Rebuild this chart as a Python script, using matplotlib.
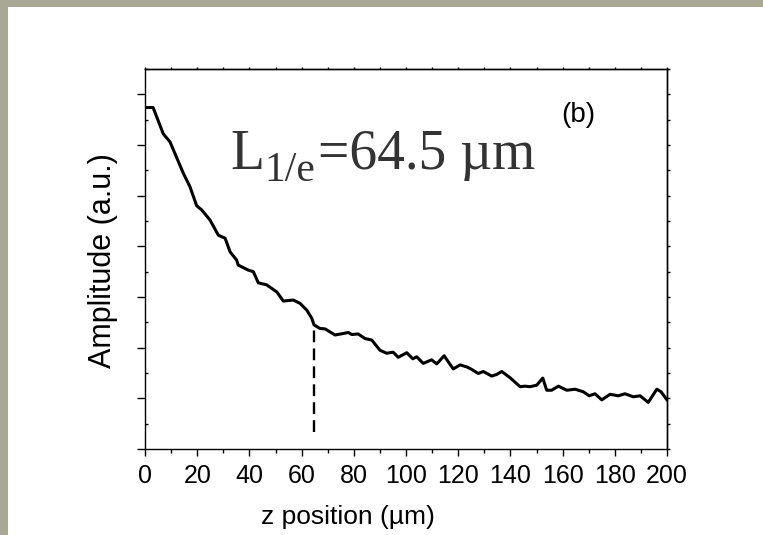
import matplotlib.pyplot as plt
from matplotlib.ticker import MultipleLocator
from matplotlib.patches import Rectangle
from matplotlib.transforms import offset_copy

# amplitude profile
z_um = [0, 3.1, 7.0, 9.6, 14.7, 17.2, 19.8, 21.7, 24.9, 28.1, 30.7, 32.6, 35.1, 35.7,
        39.6, 41.5, 43.4, 46.6, 50.5, 53.0, 56.8, 59.4, 62.0, 63.9, 64.75, 67.0, 69.0,
        72.8, 76.0, 77.9, 79.2, 81.7, 84.3, 86.9, 90.0, 92.6, 95.1, 97.0, 100.3, 102.6,
        104.1, 106.6, 109.8, 111.8, 114.6, 118.1, 120.7, 123.3, 125.2, 127.7, 129.6,
        132.8, 134.7, 136.7, 139.8, 143.7, 145.6, 147.5, 150.1, 152.4, 153.9, 155.8,
        158.4, 161.6, 164.8, 167.9, 170.2, 172.4, 175.0, 178.2, 181.3, 183.9, 187.1,
        189.7, 192.8, 196.1, 197.7, 200]
amp = [6.74, 6.74, 6.22, 6.06, 5.44, 5.18, 4.80, 4.72, 4.52, 4.22, 4.16, 3.89, 3.73, 3.63,
       3.53, 3.50, 3.28, 3.24, 3.10, 2.92, 2.94, 2.875, 2.74, 2.58, 2.45, 2.38, 2.37,
       2.25, 2.28, 2.30, 2.26, 2.27, 2.18, 2.15, 1.95, 1.89, 1.91, 1.81, 1.90, 1.78,
       1.82, 1.69, 1.76, 1.68, 1.84, 1.58, 1.66, 1.62, 1.57, 1.49, 1.53,
       1.44, 1.47, 1.53, 1.41, 1.23, 1.24, 1.23, 1.26, 1.40, 1.16, 1.16,
       1.24, 1.16, 1.18, 1.13, 1.05, 1.09, 0.97, 1.08, 1.05, 1.09, 1.03,
       1.05, 0.92, 1.18, 1.13, 0.97]

L_1e = 64.75          # decay length marker
marker_y = [0.34, 2.45]
x_ticks = [0, 20, 40, 60, 80, 100, 120, 140, 160, 180, 200]

fig = plt.figure(figsize=(7.63, 5.35), dpi=100)
fig.patch.set_facecolor('#a9a894')
fig.patches.append(Rectangle((8/763, 0), 1, (535-7)/535, transform=fig.transFigure,
                             facecolor='white', edgecolor='none', zorder=-10))

ax = fig.add_axes([145/763, 86/535, 522/763, 380/535])
ax.patch.set_alpha(0)
ax.plot(z_um, amp, color='black', lw=2.2)
ax.plot([L_1e, L_1e], marker_y, color='black', lw=1.7, dashes=(5, 2.6))

ax.set_xlim(0, 200)
ax.set_ylim(0, 7.5)
ax.set_xticks(x_ticks)
ax.xaxis.set_minor_locator(MultipleLocator(10))
ax.yaxis.set_major_locator(MultipleLocator(1))
ax.yaxis.set_minor_locator(MultipleLocator(0.5))
for s in ax.spines.values():
    s.set_linewidth(1.0)

ax.tick_params(axis='x', which='major', direction='out', length=5, width=1.0, pad=6,
               labelsize=18, top=False)
ax.tick_params(axis='x', which='minor', direction='out', length=3, width=1.0, top=False)
ax.tick_params(axis='y', which='major', direction='out', length=6, width=1.0,
               labelleft=False, right=False)
ax.tick_params(axis='y', which='minor', direction='in', length=2.5, width=1.0, right=False)
for lbl in ax.get_xticklabels():
    lbl.set_fontfamily('Liberation Sans')

# top and right get their own tiny ticks
top = ax.secondary_xaxis('top')
top.xaxis.set_major_locator(MultipleLocator(10))
top.tick_params(direction='out', length=1.8, width=1.0, labeltop=False)
top.spines['top'].set_linewidth(1.0)
right = ax.secondary_yaxis('right')
right.yaxis.set_major_locator(MultipleLocator(0.5))
right.tick_params(direction='out', length=1.8, width=1.0, labelright=False)
right.spines['right'].set_linewidth(1.0)

ax.set_xlabel('z position (µm)', fontsize=19, fontfamily='Liberation Sans')
ax.xaxis.set_label_coords(0.389, -0.197)
ax.xaxis.label.set_va('baseline')
ax.set_ylabel('Amplitude (a.u.)', fontsize=22, fontfamily='Liberation Sans')
ax.yaxis.set_label_coords(-0.066, 0.495)
ax.yaxis.label.set_va('baseline')

# L_1/e label built from three pieces so the subscript can be bigger than mathtext's
rend = fig.canvas.get_renderer()
serif = dict(fontfamily='Liberation Serif', color='#333333', ha='left', va='baseline')
t1 = ax.text(0.163, 0.737, 'L', transform=ax.transAxes, fontsize=40, **serif)
w1 = t1.get_window_extent(rend).width
tr2 = offset_copy(ax.transAxes, fig, x=w1, y=-12, units='dots')
t2 = ax.text(0.163, 0.737, '1/e', transform=tr2, fontsize=30, **serif)
w2 = t2.get_window_extent(rend).width
tr3 = offset_copy(ax.transAxes, fig, x=w1 + w2 + 3, y=0, units='dots')
ax.text(0.163, 0.737, '=64.5 µm', transform=tr3, fontsize=40, **serif)

ax.text(0.831, 0.878, '(b)', transform=ax.transAxes, fontsize=20,
        fontfamily='Liberation Sans', ha='center', va='center')

fig.savefig('out.png', dpi=100, facecolor=fig.get_facecolor())
